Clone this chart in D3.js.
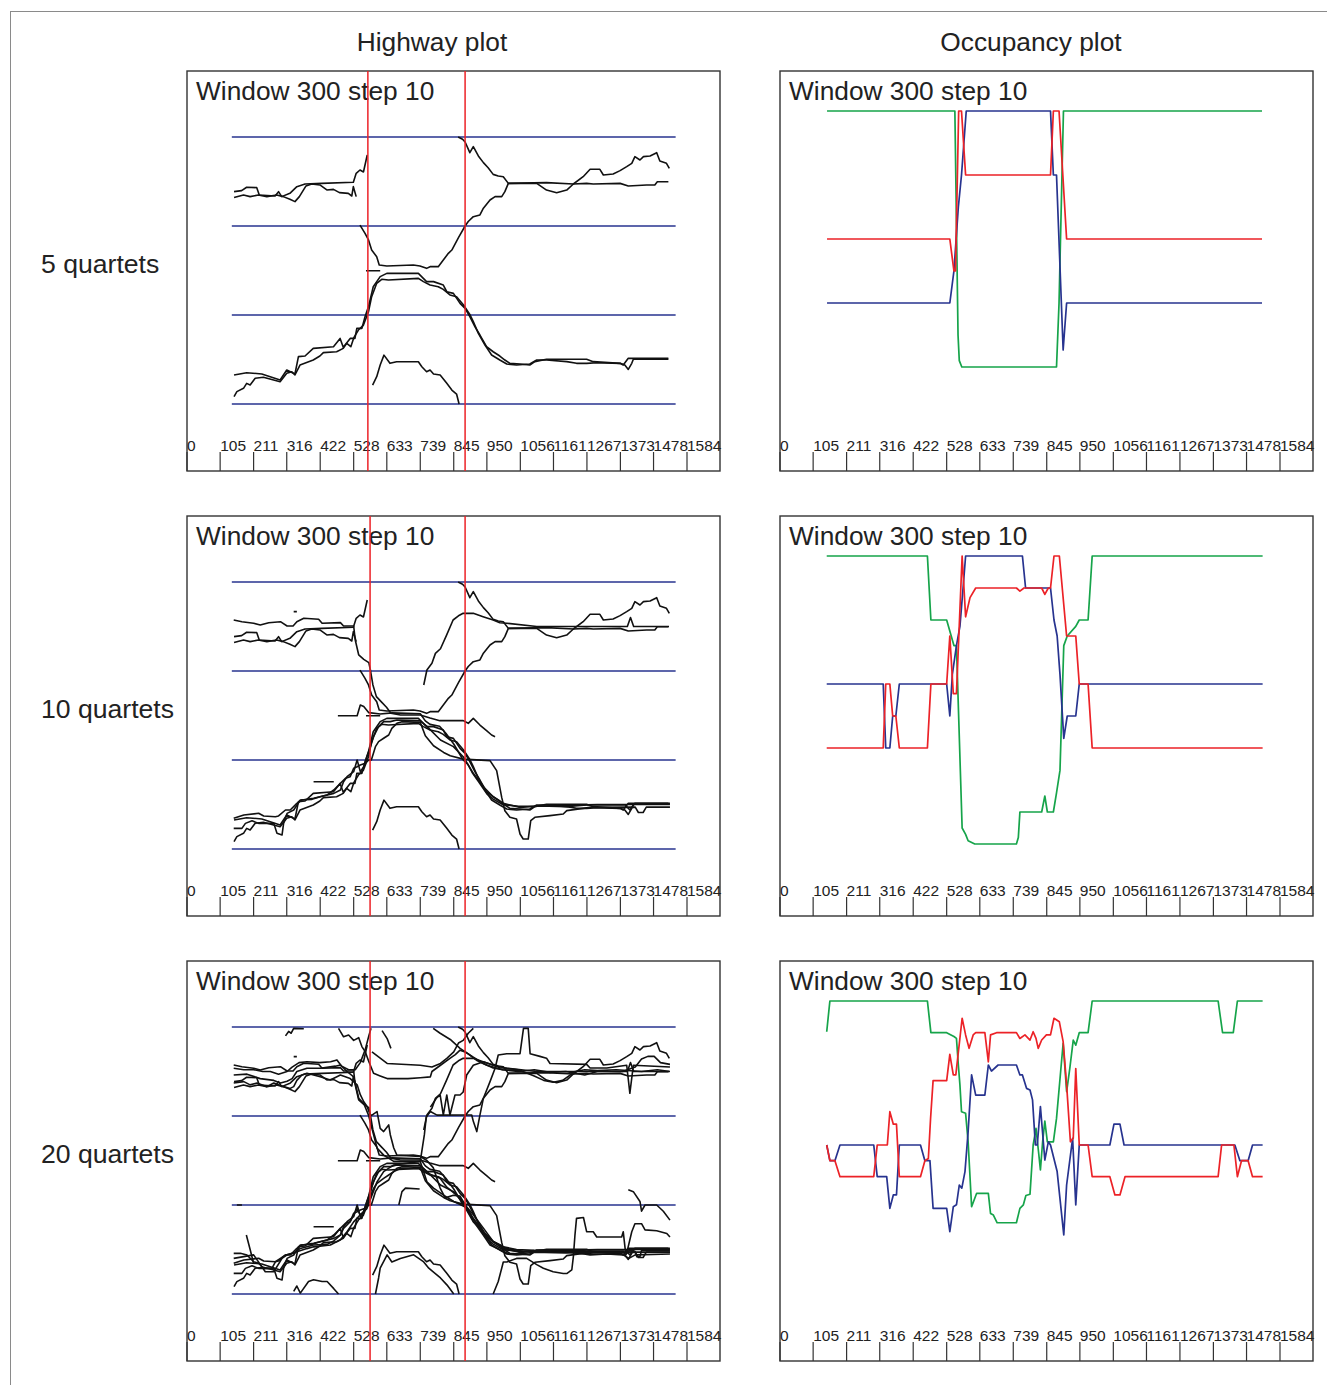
<!DOCTYPE html>
<html>
<head>
<meta charset="utf-8">
<script src="https://cdn.jsdelivr.net/npm/d3@7"></script>
<style>
    body { margin: 0; background: #fff; }
    svg { display: block; font-family: "Liberation Sans", Arial, Helvetica, sans-serif; }
</style>
</head>
<body>
<svg id="figure" width="1327" height="1385"></svg>
<script>
// ---- data ----
const colTitles = ["Highway plot", "Occupancy plot"];
const rowLabels = ["5 quartets", "10 quartets", "20 quartets"];
const quartetCounts = [5, 10, 20];
const windowLabel = "Window 300 step 10";
const tickLabels = [0, 105, 211, 316, 422, 528, 633, 739, 845, 950, 1056, 1161, 1267, 1373, 1478, 1584];
const breakpoints = [[573, 881], [580, 881], [580, 881]];
const laneLevels = [0, 1, 2, 3];
const laneSpan = [142, 1548];

// highway paths, one per quartet: [position, lane], null = gap
const q1 = [[149,2.386],[173,2.397],[189,2.435],[221,2.431],[229,2.348],[279,2.337],[290,2.386],[300,2.33],[326,2.367],[348,2.442],[374,2.472],[427,2.479],[527,2.491],[536,2.592],[548,2.629],[559,2.607],[571,2.798],
    null,[859,3.0],[873,2.974],[881,2.944],[896,2.824],[907,2.891],[923,2.787],[939,2.712],[954,2.655],[970,2.58],[986,2.562],[1002,2.554],[1018,2.479],[1108,2.479],[1139,2.404],[1171,2.374],[1203,2.404],[1224,2.472],[1255,2.554],[1277,2.637],[1308,2.637],[1319,2.573],[1350,2.584],[1372,2.622],[1393,2.667],[1409,2.704],[1419,2.779],[1435,2.742],[1446,2.779],[1467,2.786],[1488,2.824],[1498,2.73],[1519,2.704],[1528,2.648]];
const q2 = [[149,2.32],[179,2.348],[200,2.33],[226,2.348],[253,2.33],[284,2.348],[305,2.33],[326,2.3],[342,2.274],[356,2.33],[377,2.45],[395,2.472],[421,2.461],[443,2.405],[464,2.412],[483,2.375],[511,2.367],[522,2.337],[527,2.442],[536,2.33],
    null,[548,2.01],[564,1.917],[575,1.843],[585,1.73],[601,1.655],[609,1.562],[633,1.551],[717,1.562],[738,1.551],[759,1.524],[770,1.543],[796,1.543],[812,1.618],[828,1.693],[839,1.73],[860,1.87],[881,2.0],[891,2.05],[907,2.105],[928,2.124],[939,2.2],[960,2.292],[976,2.33],[997,2.33],[1007,2.386],[1018,2.479],[1139,2.487],[1224,2.472],[1266,2.479],[1287,2.472],[1372,2.479],[1398,2.449],[1456,2.461],[1482,2.461],[1490,2.498],[1525,2.498]];
const q3 = [[149,0.326],[189,0.352],[237,0.337],[295,0.27],[316,0.382],[342,0.337],[353,0.532],[374,0.539],[400,0.625],[464,0.644],[485,0.737],[495,0.637],[517,0.737],[532,0.737],[538,0.85],[554,0.85],[564,0.981],[575,1.094],[590,1.318],[612,1.431],[633,1.468],[733,1.468],[759,1.375],[781,1.375],[812,1.337],[823,1.262],[844,1.243],[865,1.131],[881,1.075],[896,0.981],[912,0.869],[928,0.775],[949,0.644],[970,0.587],[991,0.539],[1007,0.494],[1023,0.457],[1055,0.449],[1086,0.438],[1102,0.476],[1139,0.502],[1266,0.502],[1287,0.476],[1372,0.457],[1387,0.438],[1398,0.389],[1409,0.457],[1414,0.502],[1525,0.502]];
const q4 = [[149,0.082],[158,0.139],[179,0.176],[189,0.232],[200,0.214],[216,0.289],[242,0.3],[295,0.251],[316,0.345],[332,0.363],[342,0.326],[358,0.438],[400,0.494],[421,0.539],[432,0.577],[474,0.587],[495,0.625],[506,0.681],[519,0.644],[529,0.749],[543,0.831],[559,0.887],[575,1.037],[585,1.206],[601,1.356],[617,1.401],[638,1.393],[733,1.412],[749,1.375],[770,1.337],[796,1.318],[812,1.288],[833,1.225],[854,1.206],[876,1.112],[897,1.0],[907,0.925],[923,0.794],[944,0.663],[965,0.551],[991,0.494],[1013,0.449],[1044,0.438],[1086,0.449],[1108,0.494],[1139,0.494],[1203,0.476],[1234,0.457],[1266,0.457],[1298,0.464],[1372,0.457],[1382,0.438],[1398,0.513],[1414,0.513],[1525,0.513]];
const q5 = [[567,1.498],[612,1.498],null,[588,0.212],[601,0.307],[612,0.438],[624,0.549],[643,0.457],[664,0.475],[733,0.475],[744,0.419],[759,0.363],[770,0.382],[781,0.337],[802,0.326],[823,0.232],[839,0.157],[854,0.112],[862,0.0]];
const q6 = [[148,2.573],[174,2.554],[211,2.536],[232,2.517],[259,2.543],[296,2.554],[317,2.506],[336,2.506],[348,2.554],[370,2.592],[417,2.581],[428,2.536],[486,2.543],[496,2.506],[528,2.506],[533,2.348],[544,2.18],[560,2.131],[576,2.094],[581,2.011],[589,1.843],[600,1.712],[615,1.656],[632,1.592],[646,1.525],[676,1.506],[739,1.506],[770,1.472],[801,1.442],[875,1.442],[891,1.412],[907,1.468],[928,1.393],[949,1.329],[965,1.281],[976,1.262]];
const q7 = [[338,2.667],[348,2.667],null,[401,0.756],[465,0.756],null,[478,1.498],[539,1.498],[549,1.618],[560,1.6],[576,1.532],[612,1.517],[650,1.53],[739,1.52],[755,1.44],[770,1.4],[800,1.38],[820,1.3],[845,1.18],[875,1.0],[890,0.95],[905,0.85],[925,0.75],[950,0.62],[970,0.56],[1000,0.5],[1050,0.48],[1120,0.48],[1200,0.49],[1300,0.5],[1388,0.5],[1530,0.5]];
const q8 = [[750,1.843],[760,2.011],[776,2.086],[787,2.198],[803,2.25],[822,2.4],[843,2.573],[860,2.62],[875,2.648],[907,2.648],[938,2.61],[970,2.573],[991,2.543],[1013,2.536],[1108,2.5],[1300,2.5],[1395,2.5],[1405,2.6],[1415,2.5],[1527,2.5]];
const q9 = [[148,0.232],[174,0.232],[185,0.288],[206,0.318],[227,0.288],[275,0.288],[285,0.176],[301,0.157],[306,0.288],[317,0.4],[338,0.438],[359,0.551],[396,0.558],[422,0.588],[465,0.625],[486,0.663],[496,0.756],[507,0.812],[528,0.869],[539,1.0],[549,0.869],[560,0.925],[570,1.037],[581,1.15],[591,1.262],[607,1.375],[623,1.431],[644,1.431],[665,1.449],[739,1.44],[760,1.378],[803,1.225],[844,1.15],[875,1.037],[907,0.85],[939,0.7],[970,0.587],[1002,0.513],[1055,0.468],[1118,0.483],[1203,0.476],[1266,0.494],[1388,0.494],[1403,0.438],[1419,0.513],[1530,0.513]];
const q10 = [[148,0.345],[180,0.382],[227,0.401],[243,0.371],[280,0.363],[290,0.371],[312,0.438],[327,0.438],[348,0.513],[364,0.551],[401,0.57],[444,0.607],[465,0.663],[486,0.738],[502,0.794],[517,0.813],[528,0.907],[539,0.925],[549,0.944],[565,0.963],[576,1.0],[584,1.0],[597,1.15],[607,1.206],[623,1.244],[639,1.281],[649,1.356],[665,1.412],[681,1.431],[739,1.423],[755,1.273],[781,1.16],[813,1.085],[834,1.047],[875,1.01],[960,0.993],[981,0.88],[997,0.58],[1007,0.43],[1023,0.356],[1044,0.337],[1055,0.169],[1065,0.112],[1081,0.112],[1089,0.318],[1102,0.356],[1150,0.375],[1192,0.393],[1203,0.431],[1277,0.468],[1420,0.47],[1430,0.41],[1445,0.41],[1455,0.47],[1530,0.47]];
const q11 = [[148,2.536],[180,2.52],[211,2.52],[240,2.5],[264,2.5],[290,2.47],[317,2.5],[333,2.55],[355,2.6],[380,2.61],[420,2.6],[455,2.61],[475,2.63],[490,2.56],[512,2.52],[533,2.52],[549,2.6],[565,2.75],[576,2.9],[583,2.985],
    null,[586,2.72],[612,2.65],[634,2.59],[739,2.57],[776,2.55],[803,2.59],[824,2.65],[845,2.72],[860,2.82],[875,2.85],[891,2.93],[907,2.985]];
const q12 = [[480,2.985],[496,2.89],[512,2.91],[528,2.85],[544,2.88],[554,2.78],[565,2.72],[575,2.62],[591,2.48],[612,2.45],[634,2.42],[700,2.42],[739,2.43],[771,2.44],[776,2.5],[803,2.57],[834,2.65],[850,2.69],[865,2.74],[881,2.72],[907,2.66],[939,2.59],[970,2.54],[1000,2.52],[1050,2.5],[1100,2.52],[1150,2.49],[1200,2.5],[1260,2.46],[1300,2.5],[1380,2.5],[1420,2.55],[1440,2.64],[1460,2.67],[1480,2.67],[1500,2.6],[1530,2.58]];
const q13 = [[148,2.46],[190,2.47],[232,2.42],[275,2.4],[296,2.37],[317,2.39],[333,2.42],[348,2.5],[380,2.536],[422,2.536],[470,2.56],[486,2.573],[507,2.5],[528,2.44],[544,2.2],[560,2.14],[575,2.01],[586,1.86],[602,1.64],[623,1.56],[655,1.49],[739,1.49],[760,1.26],[781,1.19],[813,1.11],[845,1.04],[880,0.98],[907,0.81],[939,0.7],[970,0.59],[992,0.55],[1013,0.51],[1066,0.48],[1118,0.49],[1171,0.47],[1224,0.47],[1277,0.44],[1330,0.45],[1382,0.44],[1400,0.4],[1420,0.44],[1530,0.45]];
const q14 = [[188,0.663],[200,0.5],[211,0.345],null,[338,0.03],[348,0.09],[359,0.01],[385,0.14],[401,0.16],[428,0.14],[444,0.14],[465,0.06],[480,0.0],
    null,[780,2.985],[802,2.93],[834,2.86],[865,2.76],[890,2.7],[920,2.62],[950,2.57],[1000,2.52],[1060,2.51]];
const q15 = [[148,0.457],[169,0.457],[190,0.438],[211,0.362],[227,0.345],[243,0.288],[269,0.288],[280,0.362],[296,0.4],[312,0.438],[338,0.457],[359,0.512],[401,0.55],[444,0.558],[465,0.596],[486,0.663],[496,0.738],[517,0.813],[528,0.888],[539,0.963],[549,0.888],[560,0.925],[575,1.037],[591,1.187],[602,1.244],[623,1.3],[639,1.337],[655,1.375],[676,1.41],[739,1.41],[760,1.36],[802,1.3],[823,1.2],[854,1.11],[881,1.0],[907,0.89],[939,0.74],[970,0.59],[1002,0.53],[1044,0.5],[1100,0.49],[1200,0.48],[1300,0.48],[1382,0.48],[1390,0.44],[1400,0.49],[1419,0.48],[1425,0.42],[1435,0.42],[1440,0.49],[1530,0.49]];
const q16 = [[597,0.0],[607,0.18],[612,0.29],[634,0.44],[649,0.36],[676,0.4],[718,0.44],[750,0.36],[766,0.29],[803,0.18],[824,0.1],[845,0.0],
    null,[970,0.0],[986,0.14],[997,0.29],[1002,0.36],[1013,0.36],[1044,0.4],[1076,0.4],[1108,0.33],[1129,0.29],[1160,0.25],[1192,0.23],[1203,0.23],[1219,0.27],[1224,0.42],[1229,0.66],[1234,0.85],[1256,0.86],[1266,0.7],[1287,0.7],[1298,0.64],[1377,0.64],[1382,0.7],[1388,0.51],[1393,0.46],[1409,0.7],[1419,0.79],[1440,0.79],[1451,0.72],[1488,0.71],[1520,0.68],[1530,0.64]];
const q17 = [[158,1.0],[174,1.0],null,[671,1.0],[681,1.15],[692,1.19],[737,1.18],null,[1398,1.17],[1414,1.15],[1435,1.04],[1440,0.93],[1451,1.0],[1488,1.0],[1509,0.93],[1530,0.83]];
const q18 = [[148,0.4],[211,0.44],[248,0.25],[275,0.25],[301,0.4],[317,0.44],[348,0.475],[380,0.51],[401,0.53],[454,0.55],[486,0.61],[507,0.7],[528,0.81],[549,0.89],[570,0.96],[586,1.11],[602,1.26],[623,1.375],[655,1.45],[739,1.49],[752,1.79],[758,1.99],[771,2.05],[792,2.01],[886,2.011],[902,2.011],[907,1.94],[918,1.825],[928,2.01],[939,2.2],[960,2.386],[976,2.536],[986,2.685],[1013,2.7],[1055,2.7],[1066,2.985],[1081,2.985],[1087,2.7],[1118,2.67],[1139,2.65],[1150,2.59],[1266,2.58],[1277,2.54],[1330,2.54],[1393,2.57],[1403,2.255],[1414,2.57],[1530,2.55]];
const q19 = [[148,2.37],[180,2.386],[200,2.35],[222,2.37],[253,2.33],[275,2.37],[306,2.33],[327,2.31],[338,2.33],[348,2.4],[364,2.46],[380,2.48],[422,2.44],[454,2.405],[486,2.46],[517,2.42],[539,2.35],[549,2.24],[560,2.16],[570,2.11],[581,2.01],[586,2.01],[602,2.05],[612,1.86],[623,1.825],[639,1.9],[644,1.79],[655,1.64],[665,1.56],[739,1.545],[760,1.5],[780,1.42],[802,1.19],[818,1.08],[844,1.11],[865,1.1],[881,1.0],[907,0.82],[939,0.66],[960,0.55],[990,0.5],[1020,0.45],[1050,0.45],[1100,0.47],[1200,0.46],[1300,0.47],[1530,0.47]];
const q20 = [[312,2.9],[322,2.95],[330,2.93],[338,2.985],[370,2.98],null,[618,2.96],[634,2.87],[646,2.76],
    null,[771,2.1],[790,2.2],[802,2.236],[812,2.011],[823,2.236],[833,2.011],[849,2.236],[865,2.236],[875,2.27],[886,2.46],[907,2.57],[939,2.61],[970,2.57],[1013,2.536],[1050,2.52],[1100,2.45],[1130,2.4],[1160,2.38],[1190,2.4],[1230,2.5],[1260,2.52],[1300,2.51],[1360,2.52],[1440,2.5],[1490,2.52],[1530,2.5]];
const quartetPaths = [q1, q2, q3, q4, q5, q6, q7, q8, q9, q10, q11, q12, q13, q14, q15, q16, q17, q18, q19, q20];

// occupancy: [position, share]
const greenOcc5 = [[149,1],[554,1],[564,0.3],[568,0.22],[576,0.2],[876,0.2],[884,0.4],[898,1],[1527,1]];
const redOcc5 = [[149,0.6],[538,0.6],[551,0.5],[556,0.5],[566,1],[575,1],[588,0.8],[857,0.8],[866,1],[884,1],[908,0.6],[1527,0.6]];
const blueOcc5 = [[149,0.4],[538,0.4],[551,0.5],[565,0.7],[575,0.8],[590,1],[857,1],[866,0.8],[876,0.8],[897,0.253],[908,0.4],[1527,0.4]];

const greenOcc10 = [[148,1],[467,1],[478,0.8],[528,0.8],[551,0.72],[559,0.72],[577,0.15],[588,0.13],[596,0.11],[617,0.1],[749,0.1],[755,0.12],[760,0.2],[829,0.2],[839,0.25],[847,0.2],[866,0.2],[876,0.26],[887,0.33],[899,0.72],[910,0.75],[937,0.78],[948,0.8],[976,0.8],[989,1],[1529,1]];
const redOcc10 = [[148,0.4],[327,0.4],[335,0.6],[348,0.6],[357,0.5],[367,0.5],[378,0.4],[467,0.4],[478,0.6],[528,0.6],[538,0.75],[549,0.57],[559,0.57],[577,1],[588,0.81],[602,0.87],[620,0.9],[749,0.9],[760,0.89],[773,0.9],[829,0.9],[839,0.88],[850,0.9],[857,0.9],[868,1],[885,1],[908,0.75],[937,0.75],[948,0.6],[976,0.6],[989,0.4],[1529,0.4]];
const blueOcc10 = [[148,0.6],[327,0.6],[335,0.4],[348,0.4],[357,0.5],[367,0.5],[378,0.6],[528,0.6],[538,0.5],[546,0.63],[559,0.72],[570,0.78],[580,0.9],[588,1],[768,1],[778,0.9],[857,0.9],[868,0.8],[878,0.75],[887,0.63],[899,0.43],[910,0.5],[937,0.5],[948,0.6],[1529,0.6]];

const greenOcc20 = [[148,0.904],[158,1],[467,1],[478,0.901],[528,0.901],[551,0.889],[559,0.883],[565,0.8],[570,0.738],[575,0.654],[588,0.649],[596,0.56],[607,0.357],[623,0.399],[660,0.399],[667,0.336],[676,0.331],[688,0.307],[749,0.307],[760,0.352],[771,0.363],[779,0.392],[792,0.396],[802,0.55],[811,0.602],[819,0.529],[825,0.472],[832,0.56],[839,0.625],[847,0.56],[866,0.56],[876,0.633],[897,0.868],[908,0.717],[918,0.789],[929,0.878],[937,0.862],[948,0.901],[976,0.901],[989,1],[1388,1],[1402,0.901],[1436,0.901],[1449,1],[1529,1]];
const redOcc20 = [[148,0.55],[158,0.501],[174,0.501],[190,0.451],[297,0.451],[308,0.55],[340,0.55],[348,0.654],[359,0.615],[369,0.615],[378,0.451],[445,0.451],[459,0.501],[470,0.508],[477,0.633],[485,0.751],[528,0.751],[538,0.833],[549,0.769],[557,0.769],[577,0.946],[588,0.894],[599,0.852],[612,0.894],[620,0.901],[649,0.901],[660,0.81],[667,0.894],[686,0.901],[749,0.901],[760,0.883],[776,0.894],[792,0.878],[802,0.904],[811,0.883],[818,0.852],[829,0.878],[844,0.894],[857,0.894],[868,0.946],[885,0.935],[897,0.873],[908,0.738],[920,0.56],[929,0.571],[937,0.789],[948,0.55],[976,0.55],[989,0.451],[1045,0.451],[1061,0.394],[1077,0.394],[1093,0.451],[1388,0.451],[1399,0.55],[1438,0.55],[1449,0.451],[1462,0.501],[1483,0.501],[1497,0.451],[1529,0.451]];
const blueOcc20 = [[148,0.55],[158,0.501],[174,0.501],[190,0.55],[297,0.55],[308,0.451],[338,0.451],[348,0.352],[359,0.394],[369,0.394],[378,0.55],[445,0.55],[459,0.501],[475,0.501],[485,0.352],[528,0.352],[538,0.279],[549,0.357],[559,0.363],[568,0.425],[576,0.415],[586,0.467],[596,0.592],[607,0.769],[620,0.706],[649,0.706],[660,0.8],[670,0.781],[691,0.8],[749,0.8],[760,0.769],[768,0.769],[781,0.727],[792,0.722],[800,0.691],[809,0.55],[815,0.55],[825,0.67],[839,0.503],[850,0.56],[857,0.55],[878,0.467],[899,0.269],[908,0.425],[927,0.571],[937,0.363],[948,0.55],[1045,0.55],[1058,0.615],[1077,0.615],[1090,0.55],[1441,0.55],[1457,0.501],[1483,0.501],[1497,0.55],[1529,0.55]];
const occupancy = [
    [greenOcc5, blueOcc5, redOcc5],
    [greenOcc10, blueOcc10, redOcc10],
    [greenOcc20, blueOcc20, redOcc20]
];
const occColors = ["#16a44a", "#27338f", "#ec2227"];

// ---- drawing ----
const figure = {
    init: function() {
        this.svg = d3.select("#figure");
        const W = 533, H = 400,
            colX = [187, 780],
            rowY = [71, 516, 961],
            titleX = [432, 1031];
        const xScale = d3.scaleLinear().domain([0, 1584]).range([0, 500]),
            yLane = d3.scaleLinear().domain([0, 3]).range([333, 66]),
            yOcc = d3.scaleLinear().domain([0, 1]).range([360, 40]);
        this.dim = { W, H, colX, rowY, titleX };
        this.util = { xScale, yLane, yOcc };
    },
    render: function() {
        const svg = this.svg,
            { W, H, colX, rowY, titleX } = this.dim,
            { xScale, yLane, yOcc } = this.util;

        svg.append("rect")
            .attr("x", 10.5).attr("y", 11.5)
            .attr("width", 1340).attr("height", 1400)
            .attr("fill", "none")
            .attr("stroke", "#8a8a8a");

        svg.selectAll(".col-title")
            .data(colTitles)
            .join("text")
            .attr("class", "col-title")
            .attr("x", (d, i) => titleX[i])
            .attr("y", 51)
            .attr("text-anchor", "middle")
            .style("font-size", "26.3px")
            .style("fill", "#222")
            .text(d => d);

        svg.selectAll(".row-label")
            .data(rowLabels)
            .join("text")
            .attr("class", "row-label")
            .attr("x", 41)
            .attr("y", (d, i) => rowY[i] + 202)
            .style("font-size", "26.6px")
            .style("fill", "#222")
            .text(d => d);

        const laneLine = d3.line()
            .defined(d => d)
            .x(d => xScale(d[0]))
            .y(d => yLane(d[1]));
        const occLine = d3.line()
            .x(d => xScale(d[0]))
            .y(d => yOcc(d[1]));

        rowY.forEach((top, r) => {
            // highway panel
            const hw = frame(colX[0], top);
            hw.append("g").selectAll("line")
                .data(laneLevels)
                .join("line")
                .attr("x1", xScale(laneSpan[0])).attr("x2", xScale(laneSpan[1]))
                .attr("y1", d => yLane(d)).attr("y2", d => yLane(d))
                .attr("stroke", "#27338f")
                .attr("stroke-width", 1.5);
            hw.append("g").selectAll("path")
                .data(quartetPaths.slice(0, quartetCounts[r]))
                .join("path")
                .attr("d", laneLine)
                .attr("fill", "none")
                .attr("stroke", "#111")
                .attr("stroke-width", 1.6)
                .attr("stroke-linejoin", "round");
            hw.append("g").selectAll("line")
                .data(breakpoints[r])
                .join("line")
                .attr("x1", d => xScale(d)).attr("x2", d => xScale(d))
                .attr("y1", 0).attr("y2", H)
                .attr("stroke", "#ec2227")
                .attr("stroke-width", 1.5);

            // occupancy panel
            const oc = frame(colX[1], top);
            oc.append("g").selectAll("path")
                .data(occupancy[r])
                .join("path")
                .attr("d", occLine)
                .attr("fill", "none")
                .attr("stroke", (d, i) => occColors[i])
                .attr("stroke-width", 1.7)
                .attr("stroke-linejoin", "round");
        });

        // panel box, title and position axis
        function frame(left, top) {
            const g = svg.append("g").attr("transform", `translate(${left},${top})`);
            g.append("rect")
                .attr("width", W).attr("height", H)
                .attr("fill", "#fff")
                .attr("stroke", "#333")
                .attr("stroke-width", 1.4);
            g.append("text")
                .attr("x", 9).attr("y", 29)
                .style("font-size", "26.3px")
                .style("fill", "#222")
                .text(windowLabel);
            const axis = g.append("g");
            axis.selectAll("line")
                .data(tickLabels)
                .join("line")
                .attr("x1", d => xScale(d)).attr("x2", d => xScale(d))
                .attr("y1", H - 19).attr("y2", H)
                .attr("stroke", "#333")
                .attr("stroke-width", 1.2);
            axis.selectAll("text")
                .data(tickLabels)
                .join("text")
                .attr("x", d => xScale(d))
                .attr("y", H - 20)
                .style("font-size", "15.5px")
                .style("fill", "#222")
                .text(d => d);
            return g;
        }
    }
};

figure.init();
figure.render();
</script>
</body>
</html>
